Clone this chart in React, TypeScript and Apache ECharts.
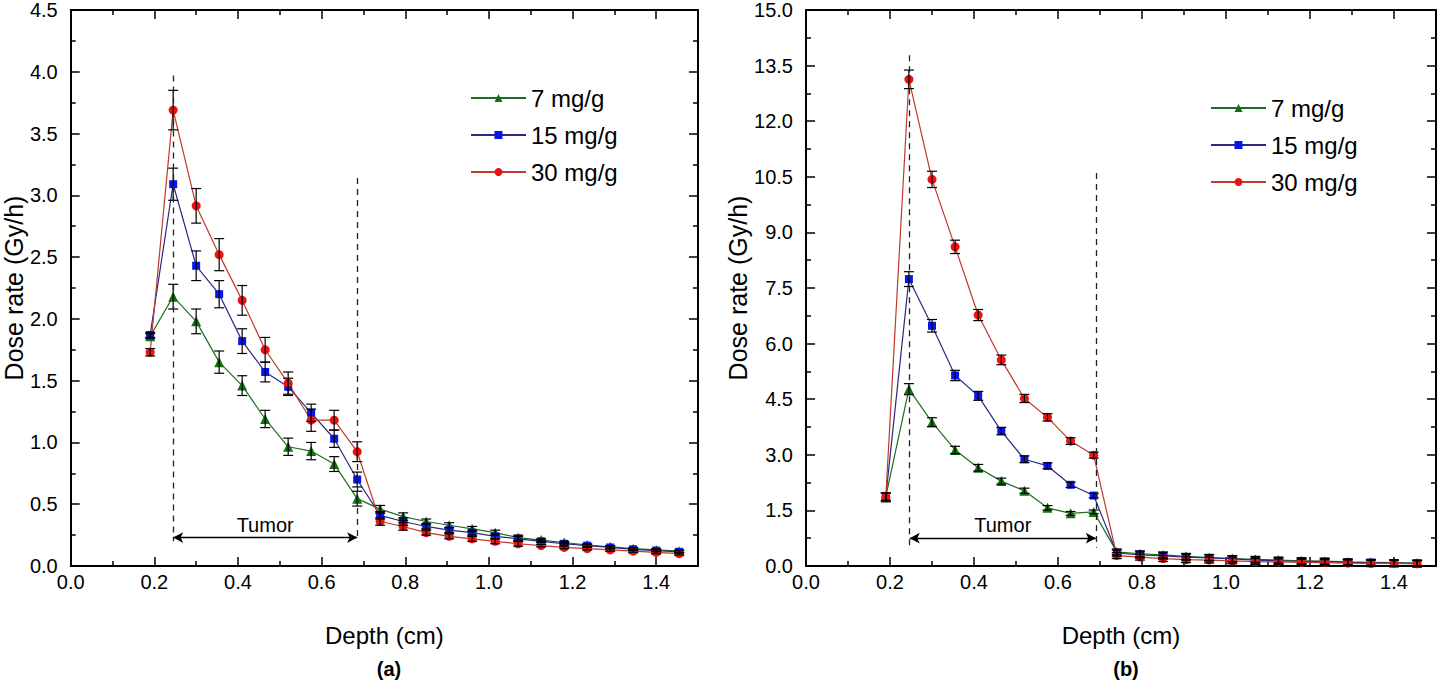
import React, { useEffect, useRef } from "react";
import * as echarts from "echarts";

const FONT = "Liberation Sans, Arial, sans-serif";

const depth = [0.19, 0.245, 0.3, 0.355, 0.41, 0.465, 0.52, 0.575, 0.63, 0.685, 0.74, 0.795, 0.85, 0.905, 0.96, 1.015, 1.07, 1.125, 1.18, 1.235, 1.29, 1.345, 1.4, 1.455];

const names = ["7 mg/g", "15 mg/g", "30 mg/g"];

// Panel (a)
const a7 = [1.86, 2.18, 1.98, 1.65, 1.46, 1.19, 0.965, 0.93, 0.825, 0.545, 0.46, 0.4, 0.36, 0.33, 0.3, 0.27, 0.23, 0.21, 0.19, 0.17, 0.155, 0.14, 0.13, 0.12];
const a15 = [1.87, 3.09, 2.43, 2.2, 1.82, 1.57, 1.45, 1.24, 1.03, 0.7, 0.41, 0.36, 0.32, 0.29, 0.27, 0.24, 0.22, 0.2, 0.18, 0.165, 0.15, 0.135, 0.125, 0.115];
const a30 = [1.73, 3.69, 2.915, 2.52, 2.15, 1.75, 1.48, 1.18, 1.18, 0.925, 0.36, 0.32, 0.27, 0.24, 0.22, 0.2, 0.18, 0.165, 0.15, 0.14, 0.13, 0.12, 0.11, 0.1];
const a7e = [0.02, 0.1, 0.1, 0.09, 0.08, 0.07, 0.07, 0.07, 0.06, 0.06, 0.03, 0.03, 0.02, 0.02, 0.02, 0.02, 0.02, 0.01, 0.01, 0.01, 0.01, 0.01, 0.01, 0.01];
const a15e = [0.02, 0.13, 0.12, 0.11, 0.1, 0.08, 0.07, 0.07, 0.07, 0.06, 0.03, 0.03, 0.02, 0.02, 0.02, 0.02, 0.02, 0.01, 0.01, 0.01, 0.01, 0.01, 0.01, 0.01];
const a30e = [0.03, 0.16, 0.14, 0.13, 0.12, 0.1, 0.09, 0.09, 0.08, 0.08, 0.03, 0.03, 0.02, 0.02, 0.02, 0.02, 0.02, 0.01, 0.01, 0.01, 0.01, 0.01, 0.01, 0.01];

// Panel (b)
const b7 = [1.87, 4.77, 3.88, 3.13, 2.65, 2.29, 2.03, 1.57, 1.42, 1.46, 0.38, 0.33, 0.3, 0.26, 0.23, 0.2, 0.18, 0.16, 0.14, 0.13, 0.11, 0.1, 0.09, 0.08];
const b15 = [1.87, 7.74, 6.48, 5.14, 4.59, 3.64, 2.88, 2.7, 2.19, 1.9, 0.35, 0.3, 0.27, 0.24, 0.22, 0.19, 0.16, 0.14, 0.13, 0.12, 0.1, 0.09, 0.08, 0.07];
const b30 = [1.85, 13.13, 10.43, 8.61, 6.77, 5.56, 4.52, 4.01, 3.37, 2.99, 0.28, 0.24, 0.2, 0.17, 0.16, 0.14, 0.12, 0.11, 0.1, 0.09, 0.08, 0.07, 0.07, 0.06];
const b7e = [0.1, 0.15, 0.12, 0.1, 0.09, 0.08, 0.07, 0.06, 0.05, 0.05, 0.08, 0.08, 0.08, 0.08, 0.08, 0.08, 0.08, 0.08, 0.08, 0.08, 0.08, 0.08, 0.08, 0.08];
const b15e = [0.1, 0.2, 0.17, 0.14, 0.12, 0.1, 0.09, 0.08, 0.07, 0.06, 0.08, 0.08, 0.08, 0.08, 0.08, 0.08, 0.08, 0.08, 0.08, 0.08, 0.08, 0.08, 0.08, 0.08];
const b30e = [0.12, 0.25, 0.22, 0.18, 0.15, 0.13, 0.11, 0.1, 0.09, 0.08, 0.08, 0.08, 0.08, 0.08, 0.08, 0.08, 0.08, 0.08, 0.08, 0.08, 0.08, 0.08, 0.08, 0.08];

const lineColors = ["#1f6e1f", "#2a2a85", "#c0392b"];
const markColors = ["#137013", "#0a14e6", "#ee1111"];
const symbols = ["triangle", "rect", "circle"];
const symbolSizes = [10, 8, 9];

function App() {
  const ref = useRef<HTMLDivElement>(null);
  useEffect(() => {
    if (!ref.current) return;
    const chart = echarts.init(ref.current, null, { renderer: "svg" });

    const errRender = (params: any, api: any) => {
      const x = api.value(0);
      const y = api.value(1);
      const e = api.value(2);
      const t = api.coord([x, y + e]);
      const b = api.coord([x, y - e]);
      const st = { stroke: "#000", lineWidth: 1.2 };
      return {
        type: "group",
        children: [
          { type: "line", shape: { x1: t[0], y1: t[1], x2: b[0], y2: b[1] }, style: st },
          { type: "line", shape: { x1: t[0] - 5, y1: t[1], x2: t[0] + 5, y2: t[1] }, style: st },
          { type: "line", shape: { x1: b[0] - 5, y1: b[1], x2: b[0] + 5, y2: b[1] }, style: st },
        ],
      };
    };

    const panels = [
      { vals: [a7, a15, a30], errs: [a7e, a15e, a30e] },
      { vals: [b7, b15, b30], errs: [b7e, b15e, b30e] },
    ];

    const guide = [
      { d1: [0.245, 3.97], d2: [0.685, 3.14], bottom: 0.2, arrowY: 0.23 },
      { d1: [0.247, 13.78], d2: [0.69, 10.6], bottom: 0.49, arrowY: 0.75 },
    ];

    const series: any[] = [];
    panels.forEach((p, pi) => {
      p.vals.forEach((v, si) => {
        const s: any = {
          name: names[si],
          type: "line",
          xAxisIndex: pi * 2,
          yAxisIndex: pi * 2,
          data: depth.map((d, i) => [d, v[i]]),
          symbol: symbols[si],
          symbolSize: symbolSizes[si],
          showAllSymbol: true,
          lineStyle: { color: lineColors[si], width: 1.2 },
          itemStyle: { color: markColors[si] },
          z: 2,
        };
        if (si === 0) {
          const g = guide[pi];
          s.markLine = {
            silent: true,
            symbol: ["none", "none"],
            label: { show: false },
            lineStyle: { type: [6, 5], color: "#222", width: 1.3 },
            data: [
              [{ coord: g.d1 }, { coord: [g.d1[0], g.bottom] }],
              [{ coord: g.d2 }, { coord: [g.d2[0], g.bottom] }],
              [
                {
                  coord: [g.d1[0], g.arrowY],
                  symbol: "arrow",
                  symbolSize: [8, 10],
                  lineStyle: { type: "solid", color: "#000", width: 1.3 },
                  label: {
                    show: true,
                    formatter: "Tumor",
                    position: "middle",
                    fontSize: 20,
                    fontFamily: FONT,
                    color: "#000",
                    distance: 3,
                  },
                },
                { coord: [g.d2[0], g.arrowY], symbol: "arrow", symbolSize: [8, 10] },
              ],
            ],
          };
        }
        series.push(s);
      });
      p.vals.forEach((v, si) => {
        series.push({
          type: "custom",
          xAxisIndex: pi * 2,
          yAxisIndex: pi * 2,
          data: depth.map((d, i) => [d, v[i], p.errs[si][i]]),
          encode: { x: 0, y: 1 },
          renderItem: errRender,
          silent: true,
          z: 3,
        });
      });
    });

    const axisLine = { show: true, onZero: false, lineStyle: { color: "#000", width: 2 } };
    const tick = { show: true, inside: true, length: 9, lineStyle: { color: "#000", width: 1.5 } };
    const minor = { show: true, splitNumber: 2, length: 5, lineStyle: { color: "#000", width: 1.5 } };
    const label = { fontSize: 20, fontFamily: FONT, color: "#000" };

    const xAx = (grid: number) => [
      {
        type: "value",
        gridIndex: grid,
        position: "bottom",
        min: 0,
        max: 1.5,
        interval: 0.2,
        axisLine,
        axisTick: tick,
        minorTick: minor,
        splitLine: { show: false },
        axisLabel: { ...label, margin: 6, showMaxLabel: false, formatter: (v: number) => v.toFixed(1) },
        name: "Depth (cm)",
        nameLocation: "middle",
        nameGap: 57,
        nameTextStyle: { fontSize: 24, fontFamily: FONT, color: "#000" },
      },
      {
        type: "value",
        gridIndex: grid,
        position: "top",
        min: 0,
        max: 1.5,
        interval: 0.2,
        axisLine,
        axisTick: tick,
        minorTick: minor,
        splitLine: { show: false },
        axisLabel: { show: false },
      },
    ];
    const yAx = (grid: number, max: number, interval: number, gap: number) => [
      {
        type: "value",
        gridIndex: grid,
        position: "left",
        min: 0,
        max,
        interval,
        axisLine,
        axisTick: tick,
        minorTick: minor,
        splitLine: { show: false },
        axisLabel: { ...label, margin: 13, formatter: (v: number) => v.toFixed(1) },
        name: "Dose rate (Gy/h)",
        nameLocation: "middle",
        nameGap: gap,
        nameTextStyle: { fontSize: 25, fontFamily: FONT, color: "#000" },
      },
      {
        type: "value",
        gridIndex: grid,
        position: "right",
        min: 0,
        max,
        interval,
        axisLine,
        axisTick: tick,
        minorTick: minor,
        splitLine: { show: false },
        axisLabel: { show: false },
      },
    ];

    const legendBase = {
      data: names,
      orient: "vertical",
      itemWidth: 55,
      itemHeight: 10,
      itemGap: 13,
      selectedMode: false,
      textStyle: { fontSize: 24, fontFamily: FONT, color: "#000" },
    };

    chart.setOption({
      animation: false,
      backgroundColor: "#fff",
      textStyle: { fontFamily: FONT },
      title: [
        { text: "(a)", left: 384, top: 654, textAlign: "center", textStyle: { fontSize: 20, fontWeight: "bold", fontFamily: FONT, color: "#000" } },
        { text: "(b)", left: 1121, top: 654, textAlign: "center", textStyle: { fontSize: 20, fontWeight: "bold", fontFamily: FONT, color: "#000" } },
      ],
      legend: [
        { ...legendBase, left: 465, top: 81 },
        { ...legendBase, left: 1205, top: 91 },
      ],
      grid: [
        { left: 70, right: 742, top: 10, bottom: 120 },
        { left: 806, right: 4, top: 10, bottom: 120 },
      ],
      xAxis: [...xAx(0), ...xAx(1)],
      yAxis: [...yAx(0, 4.5, 0.5, 42), ...yAx(1, 15, 1.5, 54)],
      series,
    });
    return () => chart.dispose();
  }, []);
  return <div ref={ref} style={{ position: "absolute", left: 0, top: 0, width: 1440, height: 686 }} />;
}

export default App;
